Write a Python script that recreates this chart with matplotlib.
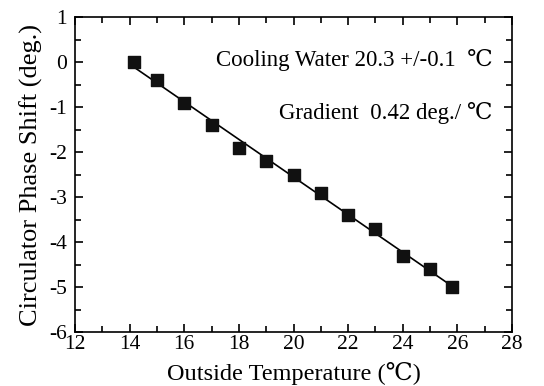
import numpy as np
import matplotlib.pyplot as plt
from matplotlib.ticker import MultipleLocator

temp = [14.15, 15, 16, 17, 18, 19, 20, 21, 22, 23, 24, 25, 25.8]
shift = [0.0, -0.4, -0.9, -1.4, -1.9, -2.2, -2.5, -2.9, -3.4, -3.7, -4.3, -4.6, -5.0]

plt.rcParams['font.family'] = ['Liberation Serif', 'DejaVu Serif']
plt.rcParams['axes.unicode_minus'] = False

fig = plt.figure(figsize=(5.44, 3.86), dpi=100)
ax = fig.add_axes([75 / 544, 1 - 332 / 386, 437 / 544, 315 / 386])

# linear fit
k, b = np.polyfit(temp, shift, 1)
xf = np.array([min(temp), max(temp)])
ax.plot(xf, k * xf + b, color='black', linewidth=1.2, zorder=1)
ax.scatter(temp, shift, marker='s', s=80, color='#111111', zorder=2)

ax.set_xlim(12, 28)
ax.set_ylim(-6, 1)
ax.xaxis.set_major_locator(MultipleLocator(2))
ax.xaxis.set_minor_locator(MultipleLocator(1))
ax.yaxis.set_major_locator(MultipleLocator(1))
ax.yaxis.set_minor_locator(MultipleLocator(0.5))
ax.tick_params(which='both', direction='in', top=True, right=True, labelsize=15.5, width=1.2)
ax.tick_params(which='major', length=6)
ax.tick_params(which='minor', length=4)
ax.tick_params(axis='x', pad=2)
ax.tick_params(axis='y', pad=6)
for s in ax.spines.values():
    s.set_linewidth(1.2)

ax.set_xlabel('Outside Temperature (\u2103)', fontsize=17.5, labelpad=6)
ax.set_ylabel('Circulator Phase Shift (deg.)', fontsize=19, labelpad=4)

ax.text(0.955, 0.865, 'Cooling Water 20.3 +/-0.1  \u2103', transform=ax.transAxes,
        ha='right', va='center', fontsize=16.5)
ax.text(0.955, 0.695, 'Gradient  0.42 deg./ \u2103', transform=ax.transAxes,
        ha='right', va='center', fontsize=16.5)

plt.savefig('out.png', dpi=100)
